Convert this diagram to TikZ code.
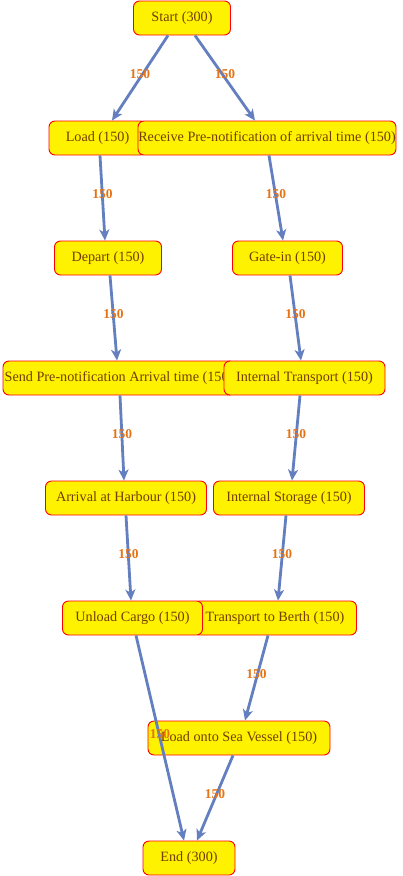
\documentclass[tikz,border=0pt]{standalone}
\usepackage{fontspec}
\setmainfont{Liberation Serif}
\usetikzlibrary{arrows.meta}
\definecolor{edgeblue}{RGB}{99,127,192}
\definecolor{lblorange}{RGB}{230,115,20}
\definecolor{txtbrown}{RGB}{115,62,0}
\tikzset{
  box/.style={draw=red, fill=yellow, rounded corners=6pt, line width=0.9pt,
    minimum height=34pt, inner xsep=0pt, inner ysep=0pt, text=txtbrown,
    font=\fontsize{14.2}{16}\selectfont},
  flow/.style={draw=edgeblue, line width=2.8pt,
    -{Stealth[length=11pt,width=10pt,inset=3pt]}},
  lbl/.style={text=lblorange, font=\fontsize{13.5}{15}\selectfont\bfseries, inner sep=0pt, anchor=base}
}
\newcommand{\bx}[2]{\makebox[#1pt][c]{#2}}
\begin{document}
\begin{tikzpicture}[x=1pt,y=-1pt]
\useasboundingbox (0,0) rectangle (402,876);
\node[box, minimum width=97pt] (start) at (182,18) {\bx{97}{Start (300)}};
\node[box, minimum width=97pt] (load) at (97.5,138) {\bx{97}{Load (150)}};
\node[box, minimum width=258pt] (receive) at (267,138) {\bx{258}{Receive Pre-notification of arrival time (150)}};
\node[box, minimum width=107pt] (depart) at (108,258) {\bx{107}{Depart (150)}};
\node[box, minimum width=110pt] (gatein) at (287.5,258) {\bx{110}{Gate-in (150)}};
\node[box, minimum width=232pt] (send) at (119,378) {\bx{232}{Send Pre-notification Arrival time (150)}};
\node[box, minimum width=161pt] (itransport) at (304.5,378) {\bx{161}{Internal Transport (150)}};
\node[box, minimum width=161pt] (arrival) at (126,498) {\bx{161}{Arrival at Harbour (150)}};
\node[box, minimum width=151pt] (storage) at (289,498) {\bx{151}{Internal Storage (150)}};
\node[box, minimum width=163pt] (berth) at (275,618) {\bx{163}{Transport to Berth (150)}};
\node[box, minimum width=140pt] (unload) at (132.5,618) {\bx{140}{Unload Cargo (150)}};
\node[box, minimum width=182pt] (vessel) at (239,738) {\bx{182}{Load onto Sea Vessel (150)}};
\node[box, minimum width=92pt] (end) at (189,858) {\bx{92}{End (300)}};

\draw[flow] ([xshift=-14pt]start.south) -- node[lbl]{150} ([xshift=14.5pt]load.north);
\draw[flow] ([xshift=13pt]start.south) -- node[lbl]{150} ([xshift=-12pt]receive.north);
\draw[flow] ([xshift=2.5pt]load.south) -- node[lbl]{150} ([xshift=-3pt]depart.north);
\draw[flow] ([xshift=2pt]receive.south) -- node[lbl]{150} ([xshift=-4.5pt]gatein.north);
\draw[flow] ([xshift=2pt]depart.south) -- node[lbl]{150} ([xshift=-2pt]send.north);
\draw[flow] ([xshift=2.5pt]gatein.south) -- node[lbl]{150} ([xshift=-3.5pt]itransport.north);
\draw[flow] ([xshift=1pt]send.south) -- node[lbl]{150} ([xshift=-2pt]arrival.north);
\draw[flow] ([xshift=-4.5pt]itransport.south) -- node[lbl]{150} ([xshift=3pt]storage.north);
\draw[flow] (arrival.south) -- node[lbl]{150} ([xshift=-1.5pt]unload.north);
\draw[flow] ([xshift=-3pt]storage.south) -- node[lbl]{150} ([xshift=3pt]berth.north);
\draw[flow] ([xshift=-7pt]berth.south) -- node[lbl]{150} ([xshift=6pt]vessel.north);
\draw[flow] ([xshift=3.5pt]unload.south) -- node[lbl]{150} ([xshift=-5pt]end.north);
\draw[flow] ([xshift=-6pt]vessel.south) -- node[lbl]{150} ([xshift=8pt]end.north);
\end{tikzpicture}
\end{document}
